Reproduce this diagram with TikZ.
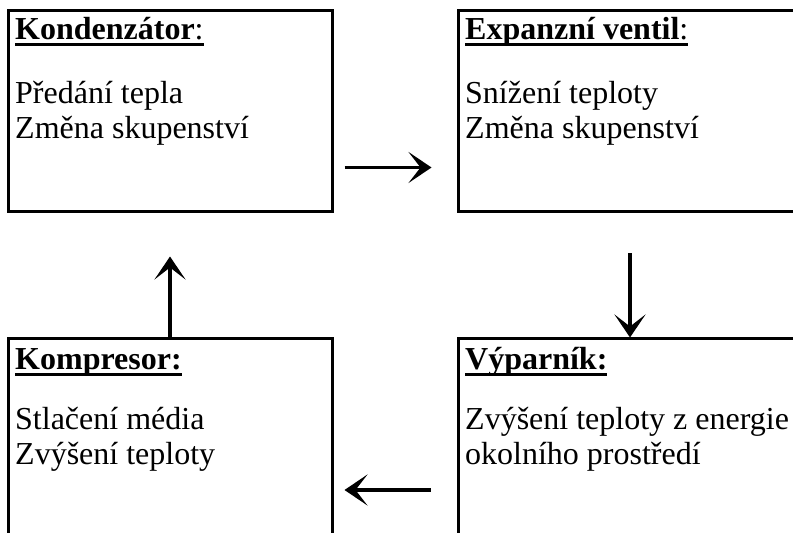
\documentclass[tikz,border=0pt]{standalone}
\usepackage{fontspec}
\setmainfont{Liberation Serif}
\usetikzlibrary{arrows.meta}
\newcommand{\ulhead}[1]{\setbox0\hbox{#1}\rlap{\rule[-7pt]{\wd0}{3pt}}\box0}

\begin{document}
\begin{tikzpicture}[x=1pt,y=1pt,
    unit/.style={draw,line width=3pt,minimum width=#1,minimum height=201pt,inner sep=0pt},
    head/.style={anchor=base west,inner sep=0pt,font=\fontsize{32}{35}\selectfont},
    body/.style={anchor=base west,inner sep=0pt,align=left,font=\fontsize{32}{35}\selectfont},
    flow/.style={line width=3.2pt,-{Stealth[length=23pt,width=31pt,inset=12pt]}}]
    \path[use as bounding box,clip] (0,0) rectangle (793,533);
    % the four stages of the cycle
    \node[unit=324pt] (kond) at (170,421.5) {};
    \node[unit=344pt] (exp)  at (630,421.5) {};
    \node[unit=324pt] (komp) at (170,93.5)  {};
    \node[unit=344pt] (vyp)  at (630,93.5)  {};
    \node[head] (kondhead) at ([xshift=8.5pt,yshift=-30pt]kond.north west) {\ulhead{\textbf{Kondenzátor}:}};
    \node[body] (kondtext) at ([xshift=8.5pt,yshift=-129pt]kond.north west) {Předání tepla\\Změna skupenství};
    \node[head] (exphead) at ([xshift=8.5pt,yshift=-30pt]exp.north west) {\ulhead{\textbf{Expanzní ventil}:}};
    \node[body] (exptext) at ([xshift=8.5pt,yshift=-129pt]exp.north west) {Snížení teploty\\Změna skupenství};
    \node[head] (komphead) at ([xshift=8.5pt,yshift=-32pt]komp.north west) {\ulhead{\textbf{Kompresor:}}};
    \node[body] (komptext) at ([xshift=8.5pt,yshift=-127pt]komp.north west) {Stlačení média\\Zvýšení teploty};
    \node[head] (vyphead) at ([xshift=8.5pt,yshift=-32pt]vyp.north west) {\ulhead{\textbf{Výparník:}}};
    \node[body] (vyptext) at ([xshift=8.5pt,yshift=-127pt]vyp.north west) {Zvýšení teploty z energie\\okolního prostředí};
    % flow between stages
    \draw[flow] ([xshift=11pt,yshift=-56pt]kond.east) -- ([xshift=-25pt,yshift=-56pt]exp.west);
    \draw[flow] ([yshift=-40pt]exp.south) -- (vyp.north);
    \draw[flow] ([xshift=-26pt,yshift=-50.5pt]vyp.west) -- ([xshift=11pt,yshift=-50.5pt]komp.east);
    \draw[flow] (komp.north) -- ([yshift=-43pt]kond.south);
\end{tikzpicture}
\end{document}
